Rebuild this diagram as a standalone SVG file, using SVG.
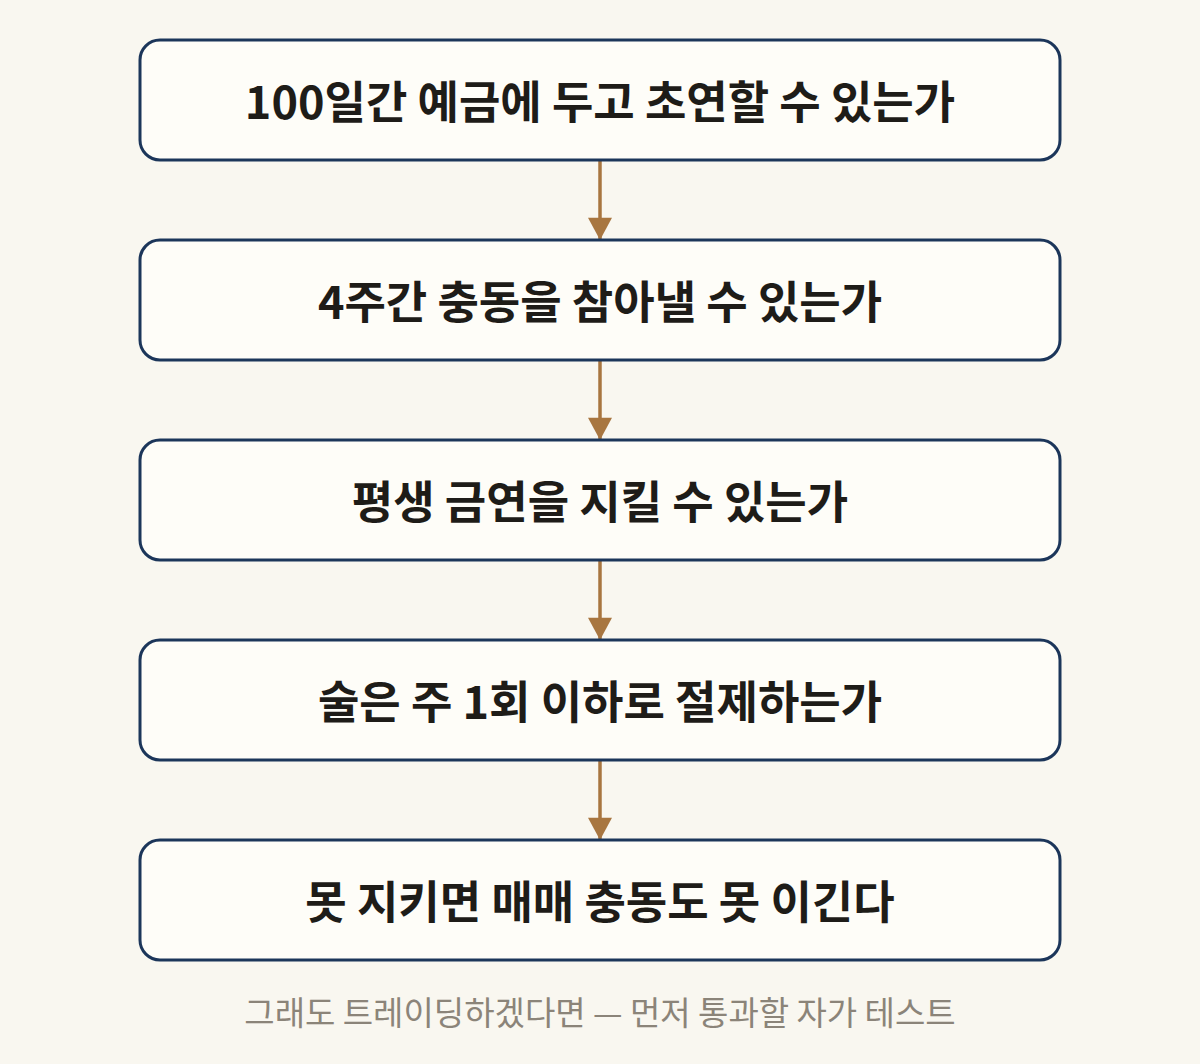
<svg xmlns="http://www.w3.org/2000/svg" width="1200" height="1064" viewBox="0 0 1200 1064">
<style>
.box{fill:#fefdf8;stroke:#1c365a;stroke-width:3}
.lbl{font-family:"Noto Sans CJK KR","Noto Sans",sans-serif;font-weight:600;font-size:45px;fill:#1e1c18;text-anchor:middle;dominant-baseline:central}
.cap{font-family:"Noto Sans CJK KR","Noto Sans",sans-serif;font-weight:400;font-size:33px;fill:#8b8479;text-anchor:middle;dominant-baseline:central}
.conn{stroke:#a87640;stroke-width:3.5;fill:none;marker-end:url(#ah)}
</style>
<defs>
<marker id="ah" markerUnits="userSpaceOnUse" markerWidth="28" markerHeight="24" refX="26" refY="14" viewBox="0 0 26 28" orient="auto">
<path d="M0,0 L26,14 L0,28 Z" fill="#a87640"/>
</marker>
</defs>
<rect width="1200" height="1064" fill="#f9f7f0"/>
<g id="connectors">
<line class="conn" x1="600" y1="160" x2="600" y2="240"/>
<line class="conn" x1="600" y1="360" x2="600" y2="440"/>
<line class="conn" x1="600" y1="560" x2="600" y2="640"/>
<line class="conn" x1="600" y1="760" x2="600" y2="840"/>
</g>
<g id="n1"><rect class="box" x="140" y="40" width="920" height="120" rx="20"/><text class="lbl" x="600" y="99">100일간 예금에 두고 초연할 수 있는가</text></g>
<g id="n2"><rect class="box" x="140" y="240" width="920" height="120" rx="20"/><text class="lbl" x="600" y="299">4주간 충동을 참아낼 수 있는가</text></g>
<g id="n3"><rect class="box" x="140" y="440" width="920" height="120" rx="20"/><text class="lbl" x="600" y="499">평생 금연을 지킬 수 있는가</text></g>
<g id="n4"><rect class="box" x="140" y="640" width="920" height="120" rx="20"/><text class="lbl" x="600" y="699">술은 주 1회 이하로 절제하는가</text></g>
<g id="n5"><rect class="box" x="140" y="840" width="920" height="120" rx="20"/><text class="lbl" x="600" y="899">못 지키면 매매 충동도 못 이긴다</text></g>
<text class="cap" x="600" y="1011">그래도 트레이딩하겠다면 — 먼저 통과할 자가 테스트</text>
</svg>
